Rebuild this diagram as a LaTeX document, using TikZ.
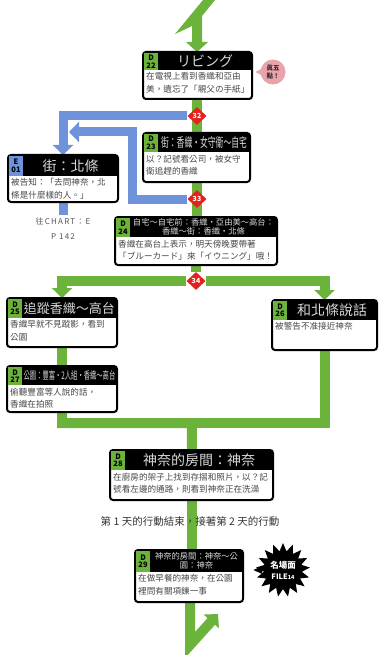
\documentclass[tikz,border=0pt]{standalone}
\usepackage{fontspec}
\setmainfont{Noto Sans CJK TC}
\newfontfamily\narrowcjk[FakeStretch=0.6]{Noto Sans CJK TC}
\newfontfamily\spaced[LetterSpace=15]{Noto Sans CJK TC}
\usepackage{tikz}
\usetikzlibrary{calc,positioning,arrows.meta,shapes.geometric,shapes.symbols}

\definecolor{pipegreen}{HTML}{6BB33A}
\definecolor{pipeblue}{HTML}{6E93DB}
\definecolor{juncred}{HTML}{E3231B}
\definecolor{hintpink}{HTML}{E8A3AB}
\definecolor{hintink}{HTML}{3A2A2A}
\definecolor{headgray}{HTML}{D9D9D9}
\definecolor{bodygray}{HTML}{474747}
\definecolor{notegray}{HTML}{555555}
\definecolor{dayink}{HTML}{333333}
\colorlet{tagD}{pipegreen}
\colorlet{tagE}{pipeblue}

\pgfdeclarelayer{paper}
\pgfdeclarelayer{pipes}
\pgfsetlayers{paper,pipes,main}

\newcommand{\hbig}{\fontsize{14}{15}\selectfont}
\newcommand{\hsmall}{\fontsize{8.3}{9}\selectfont}

% card: name, letter, number, top left, width, height, header height, header, text
\newcommand{\chartcard}[9]{%
  \pgfmathsetlengthmacro{\cardw}{#5}%
  \pgfmathsetlengthmacro{\cardh}{#6}%
  \pgfmathsetlengthmacro{\headh}{#7}%
  \pgfmathsetlengthmacro{\tagh}{#7-1}%
  \pgfmathsetlengthmacro{\headw}{#5-17}%
  \node[card, minimum width=\cardw, minimum height=\cardh] (#1) at (#4) {};
  \node[head, minimum width=\cardw, minimum height=\headh] (#1h) at (#1.north west) {};
  \node[tag, fill=tag#2, minimum height=\tagh] (#1t) at ([shift={(1pt,-1pt)}]#1.north west) {#2\\#3};
  \node[headtext, text width=\headw] (#1n) at ($(#1t.east)!.5!(#1h.east)$) {#8\par};
  \node[bodytext] (#1b) at ([shift={(2pt,-1.5pt)}]#1h.south west) {#9};
}

\begin{document}
\begin{tikzpicture}[x=1pt, y=-1pt,
card/.style={draw=black, line width=2pt, rounded corners=3pt, fill=white,
  anchor=north west, inner sep=0pt, outer sep=0pt},
head/.style={fill=black, anchor=north west, inner sep=0pt, outer sep=0pt},
tag/.style={anchor=north west, minimum width=14pt, inner sep=0pt, outer sep=0pt,
  align=center, text=black, font=\bfseries\fontsize{7.5}{7.5}\selectfont},
headtext/.style={inner sep=0pt, align=center, text=headgray, font=\hbig},
bodytext/.style={anchor=north west, inner sep=1pt, align=left, text=bodygray,
  font=\fontsize{8.6}{12.8}\selectfont},
junc/.style={diamond, fill=juncred, text=white, inner sep=0pt,
  minimum width=19pt, minimum height=18pt, font=\bfseries\fontsize{7}{7}\selectfont},
pipe/.style={draw=pipegreen, line width=10pt},
bluepipe/.style={draw=pipeblue, line width=9pt},
into/.style={-{Triangle[width=20pt,length=10pt]}},
hint/.style={circle, fill=hintpink, minimum size=25pt, inner sep=0pt, align=center,
  text=hintink, font=\bfseries\fontsize{6.5}{7.5}\selectfont},
famebadge/.style={starburst, starburst points=17, starburst point height=8pt,
  random starburst=0, fill=black, minimum width=54pt, minimum height=54pt,
  inner sep=0pt, align=center, text=white, font=\bfseries\fontsize{8.5}{11}\selectfont},
chartnote/.style={align=center, text=notegray, font=\spaced\fontsize{8}{15}\selectfont},
daynote/.style={text=dayink, font=\fontsize{10.5}{12}\selectfont}]

\useasboundingbox (0,0) rectangle (380,655);
\begin{pgfonlayer}{paper}
\fill[white] (0,0) rectangle (380,655);
\end{pgfonlayer}

% first day
\chartcard{d22}{D}{22}{143,52}{109}{47}{18}{リビング}{在電視上看到香織和亞由\\美，遺忘了「親父の手紙」}
\chartcard{d23}{D}{23}{143,133}{107}{49}{19}{\narrowcjk\fontsize{13}{14}\selectfont 街：香織・女守衛～自宅}{以？記號看公司，被女守\\衛追趕的香織}
\chartcard{e01}{E}{01}{8,155}{110}{47}{21}{街：北條}{被告知：「去問神奈，北\\條是什麼樣的人。」}
\chartcard{d24}{D}{24}{115,217}{162}{48}{20}{\hsmall 自宅～自宅前：香織・亞由美～高台：\\香織～街：香織・北條}{香織在高台上表示，明天傍晚要帶著\\「ブルーカード」來「イウニング」哦！}
\chartcard{d25}{D}{25}{7,298}{110}{49}{20}{\fontsize{13}{14}\selectfont 追蹤香織～高台}{香織早就不見蹤影，看到\\公園}
\chartcard{d27}{D}{27}{7,366}{110}{46}{19}{\narrowcjk\fontsize{10.5}{12}\selectfont 公園：豐富・2人組・香織～高台}{偷聽豐富等人說的話，\\香織在拍照}
\chartcard{d26}{D}{26}{272,300}{105}{50}{20}{和北條說話}{被警告不准接近神奈}
\chartcard{d28}{D}{28}{110,450}{163}{50}{20}{神奈的房間：神奈}{在廚房的架子上找到存摺和照片，以？記\\號看左邊的通路，則看到神奈正在洗澡}
\chartcard{d29}{D}{29}{135,550}{108}{52}{22}{\hsmall 神奈的房間：神奈～公\\園：神奈}{在做早餐的神奈，在公園\\裡問有關項鍊一事}

\node[junc] (j32) at (197,116) {32};
\node[junc] (j33) at (197,199) {33};
\node[junc] (j34) at (196,281) {34};

\node[chartnote] (chart) at (63,229) {往CHART：E\\P 142};
\node[daynote] (day) at (190,521) {第 1 天的行動結束，接著第 2 天的行動};

\node[hint] (hint) at (273,72) {眞五\\點！};
\fill[hintpink] ([shift={(1pt,3pt)}]hint.west) -- ++(-6pt,-3pt) -- ++(6pt,-3pt) -- cycle;
\node[famebadge] (fame) at (283,570) {名場面\\{\fontsize{7.5}{8}\selectfont FILE}{\fontsize{5.5}{6}\selectfont 14}};
\fill ([shift={(2pt,4pt)}]fame.west) -- ++(-9pt,-4pt) -- ++(9pt,-4pt) -- cycle;

\coordinate (turn) at (132,132);
\coordinate (rejoin) at (69,132);
\coordinate (meet) at (192,423);
\coordinate (low) at (190,645);
\coordinate (exit) at (218,614);

\begin{pgfonlayer}{pipes}
\fill[pipegreen] (203,0) -- (215,0) -- (202,16) -- (202,42) -- (208,42) -- (197,52)
  -- (186,42) -- (192,42) -- (192,26) -- (175,34) -- cycle;
\draw[pipe] (j32 |- d22.south) -- (j32 |- d23.north);
\draw[pipe] (j33 |- d23.south) -- (j33 |- d24.north);
\draw[pipe] (j34 |- d24.south) -- (j34);
\draw[pipe, into] (j34) -| (d25);
\draw[pipe, into] (j34) -| (d26);
\draw[pipe] (d25) -- (d27);
\draw[pipe] (d27) |- (meet) -- (d28);
\draw[pipe] (d26) |- (meet);
\draw[pipe] (d28) -- (d28 |- d29.north);
\draw[pipe, into] (d29.south -| low) -- (low) -- (exit);
\draw[bluepipe, into] (j32) -| (e01);
\draw[bluepipe, into] (j33) -| (turn) -- (rejoin);
\draw[bluepipe] (e01) -- (e01 |- chart.north);
\end{pgfonlayer}

\end{tikzpicture}
\end{document}
